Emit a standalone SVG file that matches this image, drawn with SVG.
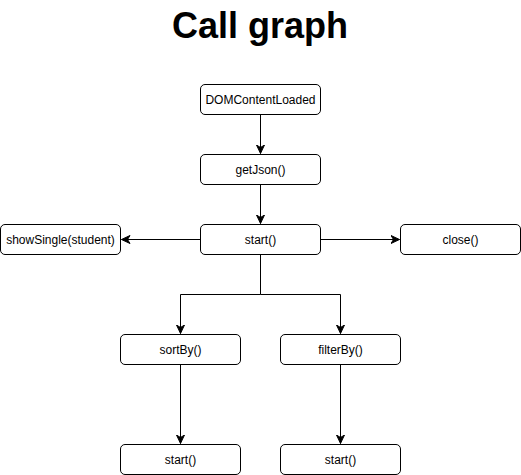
<svg xmlns="http://www.w3.org/2000/svg" width="521" height="475" viewBox="0 0 521 475">
<style>
.node rect{fill:#fff;stroke:#000;stroke-width:1}
.node text{font-family:"Liberation Sans",Arial,sans-serif;font-size:12px;fill:#000;text-anchor:middle;dominant-baseline:central}
.edge{fill:none;stroke:#000;stroke-width:1;marker-end:url(#arrow)}
.title{font-family:"Liberation Sans",Arial,sans-serif;font-size:36px;font-weight:bold;fill:#000;text-anchor:middle}
</style>
<defs>
<marker id="arrow" markerUnits="userSpaceOnUse" markerWidth="12" markerHeight="12" refX="9" refY="4.5" orient="auto" viewBox="0 0 12 12">
<path d="M0.5,0.5 L9,4.5 L0.5,8.5 L3,4.5 Z" fill="#000" stroke="#000" stroke-width="1"/>
</marker>
</defs>
<rect width="521" height="475" fill="#fff"/>
<text class="title" x="260" y="38">Call graph</text>
<g id="connectors">
<path class="edge" d="M260.5,114.5 V153.5"/>
<path class="edge" d="M260.5,184.5 V223.5"/>
<path class="edge" d="M200.5,239.5 H121.5"/>
<path class="edge" d="M320.5,239.5 H399.5"/>
<path class="edge" d="M260.5,254.5 V294.5 H180.5 V333.5"/>
<path class="edge" d="M260.5,294.5 H340.5 V333.5"/>
<path class="edge" d="M180.5,364.5 V443.5"/>
<path class="edge" d="M340.5,364.5 V443.5"/>
</g>
<g id="n-dom" class="node"><rect x="200.5" y="84.5" width="120" height="30" rx="4.5"/><text x="260.5" y="99.5">DOMContentLoaded</text></g>
<g id="n-getjson" class="node"><rect x="200.5" y="154.5" width="120" height="30" rx="4.5"/><text x="260.5" y="169.5">getJson()</text></g>
<g id="n-start" class="node"><rect x="200.5" y="224.5" width="120" height="30" rx="4.5"/><text x="260.5" y="239.5">start()</text></g>
<g id="n-showsingle" class="node"><rect x="0.5" y="224.5" width="120" height="30" rx="4.5"/><text x="60.5" y="239.5">showSingle(student)</text></g>
<g id="n-close" class="node"><rect x="400.5" y="224.5" width="120" height="30" rx="4.5"/><text x="460.5" y="239.5">close()</text></g>
<g id="n-sortby" class="node"><rect x="120.5" y="334.5" width="120" height="30" rx="4.5"/><text x="180.5" y="349.5">sortBy()</text></g>
<g id="n-filterby" class="node"><rect x="280.5" y="334.5" width="120" height="30" rx="4.5"/><text x="340.5" y="349.5">filterBy()</text></g>
<g id="n-start2" class="node"><rect x="120.5" y="444.5" width="120" height="30" rx="4.5"/><text x="180.5" y="459.5">start()</text></g>
<g id="n-start3" class="node"><rect x="280.5" y="444.5" width="120" height="30" rx="4.5"/><text x="340.5" y="459.5">start()</text></g>
</svg>
